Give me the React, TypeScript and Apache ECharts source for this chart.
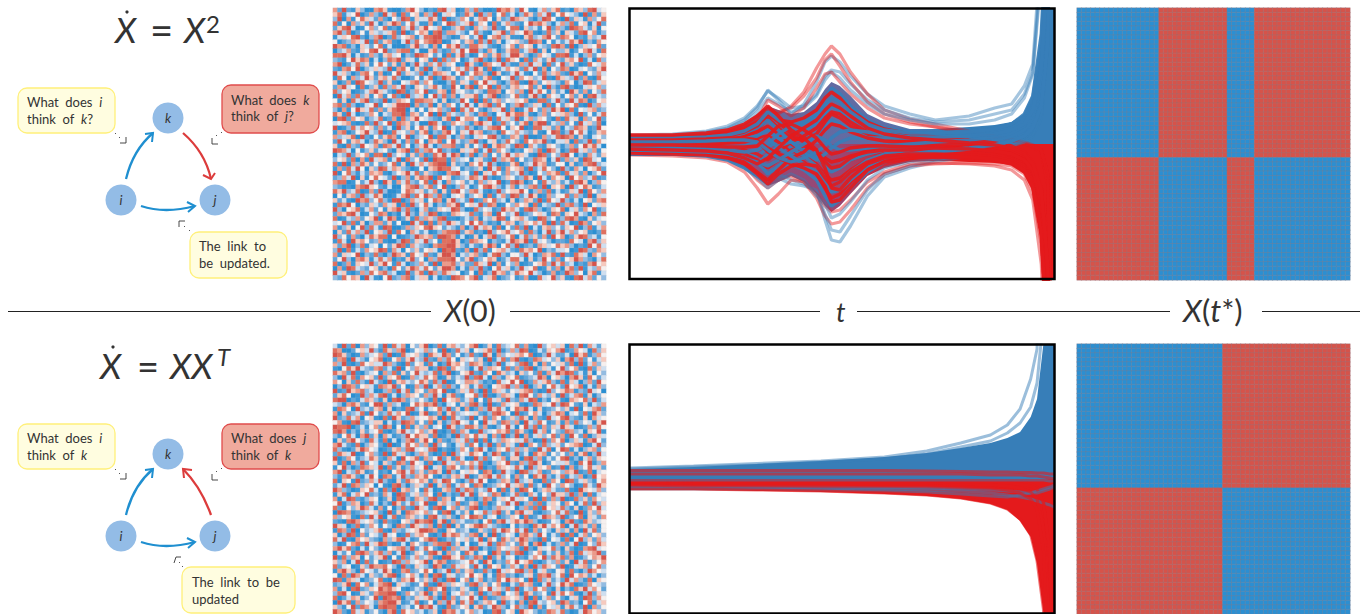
import React, { useEffect, useRef } from "react";
import * as echarts from "echarts";

// ---------- heat-map cells, read by eye: 0 = strong blue ... 9 = strong red ----------
const noiseTop = [
"7292163007 8610027953 0218946017 3820019786 2951047368 1207638945",
"6814590273 1947082561 7390465128 6093715824 0386274915 8543091726",
"3907158642 7205398164 4861902375 1478506239 7642039851 0926417358",
"8150736294 0369725841 1702598346 9265081473 2159786304 7381560492",
"2689401573 5812074936 9547013682 0746392158 8063415927 3198742605",
"7938025164 3468190257 6089277431 5831046927 4597102836 0642895713",
"1465892037 9028356714 8899320165 2490578361 1068347952 8750216349",
"5023764918 2671049385 7898014526 7183926045 6329870514 2486903175",
"9781306425 8140002693 4170586932 8864210357 1756043289 7190364582",
"0347216589 5923788140 0683127495 9931740268 8247916053 3602579418",
"8896041273 1674503298 7524081693 0157268349 9630275418 8914037256",
"3215968704 0387926415 6191837502 4792039186 5081742693 2675914083",
"7902483615 8526170394 2748365019 6208754931 1739460825 9362018547",
"2178590346 4390785162 9063125748 3961802475 6284917053 8701453269",
"9463027851 7015926438 0387641592 5873096124 9410528367 2196805374",
"1850734962 6748300251 4802976135 7326810549 2756349108 6439271085",
"6027198543 9261054783 7510038264 1859462037 8109725643 1750398246",
"2794508136 1837492065 3684129507 9075918326 7458260931 8920146573",
"8356012479 6420981375 9126708453 2431887056 3709485162 4096271538",
"0947283615 7158209346 0593827146 6814790235 8216930754 1572608943",
"5160847923 2903765188 7741602395 1908267354 6570188249 3194870256",
"7828301459 1546999072 3806275149 4067928513 7923640815 2658109374",
"3071596482 7268990415 1657329084 8520364917 0148527396 9081546723",
"8619402375 0438891762 5909174326 3178205496 8861037254 6730925148",
"0892756134 8127083695 4321680957 7502918463 9147365208 1846073592",
"4567101829 3591876240 0984127563 1796402835 2680799143 7251946380",
"9013847562 7240936158 6175904238 3024789516 5901884627 0438761295",
"1780256943 9018453726 8032795164 9671230854 7432610598 1395840267",
"7346809215 2687159034 5918840372 0465893127 6290017348 9871620453",
"2951674038 6309417285 0768159423 7920461385 3185769204 4608239175",
"6108329547 1874925036 9403778216 1539068742 9807421653 1372596840",
"9874051362 4520679183 7859231064 6814927530 2156380974 0289463715",
"0439265718 8093541627 1286949703 8037152694 7641098253 8950317426",
"3562807194 6714908352 9098817345 0462193768 1523876049 2736198450",
"8190738625 2358160947 4789906231 7584930126 8034967125 5061278934",
"1728495063 9847632015 0679884513 2360948175 6719248530 9317405682",
"9058314276 7103569482 6321078945 1906485273 4920153768 1846270359",
"2374906158 5429037168 7908561234 8749201365 2386094175 6095734812",
"7880152493 0961748325 8194073562 4173659028 9702518436 2418960375",
"3201078965 2140057893 6825910374 0258963147 1437829065 7093586124",
"8693480172 9300158746 2470618953 7841029356 6950372814 1264908537",
"0516729348 6001479285 9738204561 3560814729 8249601735 5827319064",
"6241097835 8319902746 1587069342 9127583406 0376291854 9314056278",
"1879503264 2746081935 8403276915 6492870153 7560814329 2783190546",
"9305681472 5167938204 7126549830 0835412967 4189730265 8046275913",
"2768940153 8702049316 3980217654 8216709534 9023564187 1659430728",
"8014372569 0497026183 7638911024 2704369815 6742098351 3897106245",
"4592816037 7261500948 0817396425 9583120476 1365748092 8401972563",
"7136059284 1980027365 8965243170 3947618052 8290416735 2659038147",
"0628473915 6391850742 4013788926 7120935684 5718304926 9473561028",
"9351720486 8805012397 6729987140 1604792358 0483627195 7026983415",
"1840967523 7100398264 9351889602 8765032149 7691845302 2185407936",
"6279038145 0526981743 2078899631 4216970583 9023176458 6730219584",
"3908142756 9817405362 5640989217 0938156742 1867590324 4501983276",
"7164590328 2039761854 8216997043 6720489315 5394027681 9218640753",
"2593078614 8470216935 0738889526 9135760248 8406139527 1569732048",
"8027165493 6951840237 4190778362 2864907153 7012568394 8340217956",
"0719843256 1308526974 8526997041 7392058461 3945801627 0682914375",
"9461027385 7834019268 1973864502 5081396724 8659430271 2973506814",
"3285760941 0592378146 6040219875 7914680235 1270084593 6108947253",
];
const noiseBottom = [
"4192807365 2918470536 9028167435 7902618345 8271093564 6083917425",
"8700256493 1863790254 7351902846 0546829137 3980142657 9127540836",
"9862017345 7290184563 0864972513 8219607354 6758013942 2409681375",
"2780943156 8015726943 9217385064 5360914827 9102874536 0793825146",
"7391028564 4973108256 1840296753 8762039145 3891607254 6280914735",
"1058694327 8241905376 6029817543 0493765182 7289036415 9357108264",
"8672910345 0738162594 3481790256 9217508634 0635281749 7982416053",
"3094817562 9265801734 8570162439 2894073165 8123497056 3079618524",
"7506283194 2091674358 6283901547 7631208459 5902746831 8164037295",
"0398725641 8769250173 9047283156 1482056793 7290361584 2956804173",
"9129678340 0372948165 2785910364 8309176425 4678201935 6871329450",
"2685019374 8914037652 7394068215 5829103764 0895274361 9247816035",
"8990214763 1608972435 3180956724 7051846293 2749803156 1076583924",
"4307862159 9273401586 8792045163 8930912745 6102874593 9852160437",
"1875093426 7060218935 1458392607 0273968415 8794061235 3619054782",
"7062348195 2384759016 9127068345 4621389750 9125740368 7045281963",
"9238470561 0819623745 5760918432 9048275136 3860721945 8932160745",
"5710892346 6041398725 2806137954 1509462873 7094385126 1728354069",
"9889024157 2970508163 7145096238 8627103594 0593817264 9640127385",
"8970316245 8102694357 3691028274 0193457682 8620947153 2873406591",
"3158407926 0741239586 6280130937 5846072913 9071463582 7195280364",
"0627953184 1804037926 9507213648 2918043765 6483019275 8036417952",
"7942180365 2090148573 7193520462 8503917264 1907528346 2567801493",
"8310269754 0126738945 4890210375 1794026583 7362194805 9814036725",
"2864901573 1908462037 6201809354 8650397124 9240867153 5271680394",
"9027513486 2174095681 7359261840 0938254716 6089371425 8913047265",
"6180739254 0631872954 1802946375 7481036592 1738960254 4620859137",
"1593028764 9082613745 9046178523 8390217654 8409365712 9071358462",
"7904386125 1205794836 2786093154 6518702943 0983471265 3769128045",
"3178620495 0871493276 8510326749 0267948351 7250869314 8143702956",
"8065192374 9310628657 6174985203 8495013762 9346108275 0982463157",
"2491873650 5108930364 2906381475 1870236594 6718240953 7530184296",
"9732016584 0829067351 8401672938 7243950816 1985036742 2810965473",
"1680475923 1740982463 7508031294 9165387024 8207415396 6392708145",
"7049821365 0260893176 3892760541 2038714659 4651908273 9018362754",
"5913760284 0319624835 9006743812 6718025394 9037281465 1750482936",
"8205369741 7150382196 4189057263 8902137645 0372819564 8316027594",
"0987123456 2091608765 7351890426 0548379261 7946102358 4820916375",
"7356108294 9048127634 1894362075 9871450236 5081249763 9135806427",
"2108974563 0821056397 8906917342 2305817946 8697301254 0792186345",
"9640281375 1530872964 3708190625 6897432105 1320869475 8049362715",
"1872905346 8107324569 9871065234 0163284975 8491725306 3617094825",
"6039817254 2945018367 5102968743 7806091354 0786395142 9180472563",
"8491075632 0736894125 7980132546 2490751863 6973208154 1805936274",
"3015782946 9820140753 1378892605 0164928735 2860790413 7249015386",
"7968204153 1056783924 8520917364 9803127546 7192064583 0620178945",
"0425189736 8371490265 2896073518 6145097283 8903571426 1380846792",
"9183760524 6905182473 4710996582 3870926145 0214759386 8270135769",
"6370491825 0129837456 9068712345 8419603275 9568102437 2609481357",
"8245016397 7853092164 3197028465 2940856137 4170938652 9014672583",
"1796308542 4960178235 8503491726 7128309465 8937046215 6182039754",
"5082974163 2689035741 7089164235 9560418723 0246187935 8095762413",
"9817640235 8104276953 6392089157 0471328596 7519083624 2947318065",
"2369085714 7890643125 8109736542 8936257104 2867104935 9680127543",
"7140892365 9786510243 0875913264 1075946382 9143857206 0318694752",
"3895016427 8899027536 9162804573 6291378054 7086235194 8571039264",
"8024761359 1987803264 6830917245 9408123765 6390814725 2046198375",
"0968173542 7899612480 2507396184 8136750924 1708943562 9723058146",
"6315928740 8988034159 7941082356 0682497315 8329071546 1684290735",
"9720846135 2079185634 1360978425 7340189256 0965312874 8201497563",
];

// ---------- converged block patterns, one character per cell ----------
const blockTopColumns = "000000000000000000999999999999999000000999999999999999999999";
const blockTopRowSides = "AAAAAAAAAAAAAAAAAAAAAAAAAAAAAAAAABBBBBBBBBBBBBBBBBBBBBBBBBBB";
const blockBottomColumns = "000000000000000000000000000000009999999999999999999999999999";
const blockBottomRowSides = "AAAAAAAAAAAAAAAAAAAAAAAAAAAAAAAABBBBBBBBBBBBBBBBBBBBBBBBBBBB";
const cellColors = ["#2b8fd2","#3f98d6","#62a6da","#93bce2","#cfdff0","#f6f0ef","#f6cabf","#ec9a8a","#e0705f","#d6534a"];

// ---------- trajectories of the upper run; values are pixels-equivalent above the zero line ----------
const timesTop = [0,10,18,23,27,30,32.5,35,38,41,44,46,47.5,49.5,52,56,60,66,72,80,86,90,93,95,97,98.5,100];
const envelopeTopBlue = [10,10,11,14,20,30,38,34,30,32,42,55,62,58,48,30,22,15,15,17,19,22,30,45,95,200,400];
const envelopeTopRed = [-12,-12,-13,-16,-24,-34,-42,-38,-32,-38,-50,-62,-68,-62,-50,-32,-24,-18,-17,-18,-19,-21,-30,-46,-95,-200,-400];
const blueTopOuter = [
[8,9,12,16,24,36,54,44,30,40,62,82,88,82,68,50,38,30,24,28,36,40,58,80,200,400,400],
[9,10,13,18,26,38,53,46,36,38,50,68,74,72,60,44,34,26,22,24,30,34,50,72,180,400,400],
[7,8,11,15,22,32,46,40,32,36,48,64,72,66,54,40,30,24,20,20,24,30,46,70,170,400,400],
[-6,-7,-10,-12,-14,-18,-20,-34,-40,-42,-46,-76,-96,-98,-82,-52,-33,-24,-18,-12,-6,-2,4,10,30,120,400],
[-5,-6,-9,-11,-15,-20,-26,-30,-36,-40,-48,-70,-86,-88,-72,-46,-30,-22,-16,-10,-4,0,6,14,40,150,400],
[-6,-7,-10,-15,-24,-34,-44,-36,-30,-36,-52,-60,-74,-70,-58,-36,-24,-18,-14,-10,-6,-2,2,8,26,100,400],
];
const blueTopCore = [
[-1,-1,-2,-3,-6,-10,-16,-8,0,6,10,18,24,20,14,8,5,4,5,6,8,12,18,30,66,160,400],
[-3,-3,-4,-6,-8,-12,-4,4,10,14,20,30,38,34,26,16,11,9,9,10,13,18,26,42,90,200,400],
[-5,-5,-6,-8,-12,-18,-30,-22,-12,-10,-14,-20,-24,-22,-14,-8,-4,-2,0,2,4,8,14,24,54,140,400],
[1,1,2,3,5,8,14,6,-4,-12,-22,-34,-42,-38,-28,-16,-10,-6,-4,-1,2,6,12,22,50,130,400],
[-8,-8,-9,-12,-16,-20,-10,-2,2,-4,-12,-22,-28,-24,-16,-10,-6,-3,-1,1,4,8,14,26,58,150,400],
[4,4,5,7,11,16,24,14,2,-8,-16,-10,-4,2,6,6,6,6,7,9,12,16,24,38,80,180,400],
[-4,-4,-5,-6,-8,-6,0,10,18,22,30,44,56,50,38,24,16,12,11,13,16,20,28,46,100,220,400],
[-10,-10,-12,-16,-24,-32,-40,-30,-20,-26,-36,-52,-62,-56,-44,-28,-18,-12,-8,-5,-1,3,8,18,40,110,400],
[6,6,7,9,13,20,32,24,16,20,28,38,46,42,32,20,14,11,11,12,15,20,30,48,110,240,400],
[-2,-2,-3,-4,-2,2,6,-4,-12,-20,-28,-38,-48,-46,-36,-22,-14,-10,-7,-4,-1,3,8,16,38,100,400],
[-6,-7,-8,-10,-14,-18,-22,-16,-8,0,8,4,-2,-6,-6,-4,-2,0,2,4,7,11,18,30,68,170,400],
[2,2,3,4,4,2,-6,-14,-18,-14,-8,-2,6,12,14,12,9,7,7,8,10,14,20,34,76,180,400],
];
const redTopOuter = [
[6,7,10,14,20,28,34,30,38,52,76,90,98,90,72,50,34,25,20,13,8,4,1,-3,-8,-40,-300],
[5,6,9,12,18,24,36,32,36,48,66,84,90,78,62,42,30,22,17,10,6,3,0,-2,-6,-30,-300],
[4,5,8,11,16,24,44,38,28,36,56,70,72,62,50,36,26,20,17,12,8,5,2,-1,-6,-30,-300],
[-7,-8,-11,-15,-22,-36,-44,-36,-32,-38,-54,-72,-80,-78,-66,-44,-30,-22,-20,-19,-20,-22,-30,-48,-100,-220,-400],
[-11,-12,-14,-18,-28,-44,-60,-50,-36,-38,-50,-62,-68,-66,-56,-38,-28,-20,-19,-20,-22,-26,-36,-56,-120,-260,-400],
];
const redTopCore = [
[3,3,4,5,8,12,18,10,0,-8,-14,-20,-24,-22,-16,-10,-7,-6,-6,-7,-9,-12,-18,-30,-60,-150,-400],
[2,2,3,5,8,14,26,16,6,4,10,22,30,26,18,10,6,3,1,-1,-3,-6,-12,-24,-50,-130,-400],
[1,1,2,2,4,6,8,2,-6,-12,-20,-30,-36,-34,-26,-16,-10,-8,-8,-9,-12,-16,-24,-38,-80,-180,-400],
[-2,-2,-3,-4,-6,-10,-16,-8,2,8,16,26,32,30,22,12,6,2,0,-2,-4,-8,-14,-26,-56,-140,-400],
[-4,-4,-5,-7,-10,-16,-24,-16,-6,-2,-6,-14,-18,-16,-12,-8,-6,-6,-7,-8,-11,-15,-22,-36,-76,-170,-400],
[5,5,6,8,12,18,30,22,10,2,-8,-18,-24,-22,-14,-6,-2,-1,-2,-4,-6,-10,-16,-28,-60,-150,-400],
[7,7,8,11,16,22,30,24,22,26,34,46,52,46,34,22,15,10,7,4,1,-2,-8,-18,-44,-120,-400],
[-7,-8,-9,-12,-18,-28,-36,-26,-14,-18,-30,-44,-54,-50,-38,-24,-16,-12,-11,-12,-14,-18,-26,-42,-88,-200,-400],
[0,0,0,1,2,4,-4,-10,-14,-8,4,14,20,18,12,6,3,1,0,-1,-3,-6,-12,-22,-48,-120,-400],
[-9,-10,-11,-14,-20,-30,-40,-30,-22,-20,-22,-34,-42,-38,-28,-18,-12,-10,-10,-11,-13,-17,-24,-40,-84,-190,-400],
[4,4,5,6,6,4,-8,-14,-20,-24,-30,-42,-58,-56,-44,-26,-18,-14,-13,-14,-16,-20,-28,-44,-92,-210,-400],
[9,9,11,14,20,28,38,28,14,6,-6,-24,-44,-46,-34,-20,-14,-12,-12,-13,-15,-19,-26,-42,-88,-200,-400],
[-1,-1,-2,-3,-3,-2,8,18,20,14,6,-4,-10,-8,-4,-2,-2,-3,-4,-5,-7,-10,-16,-26,-54,-130,-400],
[-5,-6,-7,-9,-14,-20,-14,-4,8,16,24,34,40,36,28,16,10,6,4,1,-1,-4,-10,-20,-46,-120,-400],
];

// ---------- trajectories of the lower run ----------
const timesBottom = [0,15,30,45,60,70,78,85,89,92,94.5,96,97.5,99,100];
const envelopeBottomBlue = [10,12,15,18,22,26,31,36,41,47,62,80,135,300,400];
const envelopeBottomRed = [-11,-11,-12,-13,-15,-17,-20,-25,-31,-42,-58,-85,-134,-300,-400];
const blueBottom = [
[11,13,15.5,18,22,28,36,44,54,70,100,130,400,400,400],
[10,12,14,17,20,25,32,38,46,56,72,96,160,400,400],
[-9,-9,-9,-10,-10,-11,-12,-14,-16,-18,-20,-22,-24,-26,-28],
[-10,-10,-10,-11,-12,-13,-15,-17,-18,-16,-14,-12,-10,-8,-6],
[-8,-8,-8,-8,-9,-9,-10,-11,-12,-13,-14,-14,-12,-10,-8],
[-1,-1,-1,-1,-1,-1,-1,-1,-1,-1,-1,-1,-1,-2,-2],
];
const redBottom = [
[5,5,5,5,5,5,5,4,4,4,3,3,2,1,0],
[8.5,8.5,8.5,8.5,8.5,8,7.5,7,7,6.5,6.5,6,6,5,5],
[-2,-3,-3,-3,-3,-3,-3,-3,-3,-3,-5,-8,-20,-80,-200],
[-3,-4,-4,-4,-4,-4,-4,-4,-4,-5,-7,-10,-24,-70,-200],
[-4,-5,-5,-5,-5,-5,-6,-6,-7,-9,-13,-20,-50,-150,-400],
[-6,-7,-7,-7,-7,-7,-8,-9,-11,-14,-20,-30,-70,-200,-400],
[-10,-10,-11,-12,-14,-16,-19,-24,-30,-40,-56,-82,-130,-300,-400],
];

// ---------- texts ----------
const sectionLabels = ["X(0)", "t", "X(t*)"];
const SANS = "Lato, 'Open Sans', sans-serif";
const INK = "#333333";
const BLUE = "#377eb8";
const RED = "#e41a1c";
const ARROW_BLUE = "#1f8fd0";
const ARROW_RED = "#dc3c3c";

const cellIndex = Array.from({ length: 60 }, (_, i) => String(i));

const rowsToCells = (rows: string[]) => {
  const out: number[][] = [];
  rows.forEach((r, y) => {
    r.replace(/\s/g, "").split("").forEach((c, x) => out.push([x, y, Number(c)]));
  });
  return out;
};
const blockToRows = (cols: string, sides: string) =>
  sides.split("").map((s) =>
    s === "A" ? cols : cols.split("").map((c) => (c === "0" ? "9" : "0")).join(""),
  );

const pairLines = (times: number[], rows: number[][], color: string, gridIndex: number, width: number, opacity: number) =>
  rows.map((r) => ({
    type: "line",
    xAxisIndex: gridIndex,
    yAxisIndex: gridIndex,
    showSymbol: false,
    symbol: "none",
    silent: true,
    lineStyle: { color, width, opacity },
    data: r.map((v, i) => [times[i], v]),
    z: 3,
  }));

const interleave = (a: any[], b: any[]) => {
  const out: any[] = [];
  for (let i = 0; i < Math.max(a.length, b.length); i++) {
    if (a[i]) out.push(a[i]);
    if (b[i]) out.push(b[i]);
  }
  return out;
};

const areaSeries = (times: number[], values: number[], color: any, gridIndex: number) => ({
  type: "line",
  xAxisIndex: gridIndex,
  yAxisIndex: gridIndex,
  showSymbol: false,
  symbol: "none",
  silent: true,
  lineStyle: { width: 0, color: "transparent" },
  areaStyle: { color, opacity: 1 },
  data: values.map((v, i) => [times[i], v]),
  z: 2,
});

const heatSeries = (rows: string[], gridIndex: number, border: string, bw: number) => ({
  type: "heatmap",
  xAxisIndex: gridIndex,
  yAxisIndex: gridIndex,
  silent: true,
  data: rowsToCells(rows),
  itemStyle: { borderColor: border, borderWidth: bw },
  progressive: 0,
  emphasis: { disabled: true },
});

const t = (text: string, x: number, y: number, size: number, extra: any = {}) => ({
  type: "text",
  z: 50,
  silent: true,
  style: {
    text,
    x,
    y,
    fontSize: size,
    fontFamily: SANS,
    fill: INK,
    textVerticalAlign: "middle",
    verticalAlign: "middle",
    rich: {
      i: { fontStyle: "italic", fontSize: size, fontFamily: SANS, fill: INK, color: INK },
    },
    ...extra,
  },
});

const box = (x: number, y: number, w: number, h: number, fill: string, stroke: string) => ({
  type: "rect",
  z: 40,
  silent: true,
  shape: { x, y, width: w, height: h, r: 9 },
  style: { fill, stroke, lineWidth: 1.3 },
});

const node = (cx: number, cy: number, label: string) => [
  { type: "circle", z: 40, silent: true, shape: { cx, cy, r: 15.5 }, style: { fill: "#93bce6" } },
  t(label, cx, cy, 13, { fontStyle: "italic", textAlign: "center", align: "center" }),
];

const arrow = (
  x1: number, y1: number, cx: number, cy: number, x2: number, y2: number,
  b1: number[], b2: number[], color: string,
) => [
  {
    type: "bezierCurve", z: 41, silent: true,
    shape: { x1, y1, x2, y2, cpx1: cx, cpy1: cy },
    style: { stroke: color, lineWidth: 2.3, fill: "none" },
  },
  {
    type: "polyline", z: 41, silent: true,
    shape: { points: [b1, [x2, y2], b2] },
    style: { stroke: color, lineWidth: 2, fill: "none" },
  },
];

const pointer = (corner: number[][], dots: number[][]) => [
  {
    type: "polyline", z: 41, silent: true,
    shape: { points: corner },
    style: { stroke: "#333", lineWidth: 0.9, fill: "none" },
  },
  ...dots.map((d) => ({
    type: "rect", z: 41, silent: true,
    shape: { x: d[0], y: d[1], width: 1, height: 1 },
    style: { fill: "#555" },
  })),
];

const sep = (x1: number, x2: number) => ({
  type: "line", z: 40, silent: true,
  shape: { x1, y1: 311.5, x2, y2: 311.5 },
  style: { stroke: "#222", lineWidth: 1.1 },
});

const frame = (x: number, y: number, w: number, h: number) => ({
  type: "rect", z: 100, silent: true,
  shape: { x, y, width: w, height: h },
  style: { fill: "none", stroke: "#000", lineWidth: 2.5 },
});

const hiddenCat = (gridIndex: number, inverse = false) => ({
  type: "category", gridIndex, data: cellIndex, show: false, inverse,
  axisLine: { show: false }, axisTick: { show: false }, axisLabel: { show: false }, splitLine: { show: false },
});
const hiddenVal = (gridIndex: number, min: number, max: number) => ({
  type: "value", gridIndex, min, max, show: false, scale: false, splitLine: { show: false },
});

export default function App() {
  const ref = useRef<HTMLDivElement>(null);
  useEffect(() => {
    const chart = echarts.init(ref.current!, undefined, { renderer: "svg" });
    const grids = [
      { left: 333, top: 8, width: 273, height: 272 },
      { left: 333, top: 344, width: 273, height: 270 },
      { left: 1077, top: 8, width: 273, height: 272 },
      { left: 1077, top: 344, width: 273, height: 270 },
      { left: 630, top: 9, width: 424, height: 270 },
      { left: 630, top: 345, width: 424, height: 268 },
    ];
    const mixUpper = new echarts.graphic.LinearGradient(0, 0, 1, 0, [
      { offset: 0, color: "#76608f" },
      { offset: 0.6, color: "#5f6da6" },
      { offset: 0.74, color: BLUE },
      { offset: 1, color: BLUE },
    ]);
    const mixLower = new echarts.graphic.LinearGradient(0, 0, 1, 0, [
      { offset: 0, color: "#7d5a8e" },
      { offset: 0.5, color: "#9a4672" },
      { offset: 0.66, color: RED },
      { offset: 1, color: RED },
    ]);
    const graphicElements: any[] = [
      sep(8, 431), sep(510, 820), sep(857, 1170), sep(1262, 1360),
      t(sectionLabels[0].replace("X", "{i|X}"), 444, 310, 30),
      t("{i|" + sectionLabels[1] + "}", 836, 311, 27),
      t("{i|X}({i|t}*)", 1183, 310, 31),
      // upper formula
      t("{i|X}", 115, 29, 35),
      t("=", 150, 30, 40),
      t("{i|X}", 184, 29, 35),
      t("2", 206, 23, 24),
      { type: "circle", z: 50, silent: true, shape: { cx: 127, cy: 12, r: 1.6 }, style: { fill: INK } },
      // lower formula
      t("{i|X}", 100, 365, 35),
      t("=", 137, 366, 38),
      t("{i|XX}", 170, 365, 35),
      t("{i|T}", 217, 356, 24),
      { type: "circle", z: 50, silent: true, shape: { cx: 113, cy: 347, r: 1.6 }, style: { fill: INK } },
      // upper diagram
      box(18, 88, 97, 45, "#fffde0", "#fff07a"),
      t("What  does  {i|i}", 27, 102, 13),
      t("think  of  {i|k}?", 27, 119, 13),
      box(222, 85, 97, 48, "#f0aa9d", "#e04c4c"),
      t("What  does  {i|k}", 231, 100, 13),
      t("think  of  {i|j}?", 231, 116, 13),
      box(190, 232, 97, 46, "#fffde0", "#fff07a"),
      t("The  link  to", 199, 246, 13),
      t("be  updated.", 199, 263, 13),
      ...node(168, 118, "k"), ...node(121, 200, "i"), ...node(215, 200, "j"),
      ...arrow(126, 179, 133, 150, 153, 133, [145, 134], [152, 142], ARROW_BLUE),
      ...arrow(183, 133, 205, 152, 211, 179, [203, 175], [215, 173], ARROW_RED),
      ...arrow(141, 206, 165, 214, 195, 206, [187, 202], [188, 212], ARROW_BLUE),
      ...pointer([[120, 143], [126, 143], [126, 137]], [[115, 133], [119, 137]]),
      ...pointer([[212, 138], [212, 144], [218, 144]], [[216, 135], [221, 132]]),
      ...pointer([[179, 227], [179, 221], [185, 221]], [[184, 226], [189, 230]]),
      // lower diagram
      box(18, 424, 97, 45, "#fffde0", "#fff07a"),
      t("What  does  {i|i}", 27, 438, 13),
      t("think  of  {i|k}", 27, 455, 13),
      box(222, 424, 97, 45, "#f0aa9d", "#e04c4c"),
      t("What  does  {i|j}", 231, 438, 13),
      t("think  of  {i|k}", 231, 455, 13),
      box(182, 567, 113, 46, "#fffde0", "#fff07a"),
      t("The  link  to  be", 192, 582, 13),
      t("updated", 192, 599, 13),
      ...node(168, 454, "k"), ...node(121, 536, "i"), ...node(215, 536, "j"),
      ...arrow(126, 515, 133, 486, 153, 469, [145, 470], [152, 478], ARROW_BLUE),
      ...arrow(211, 515, 201, 487, 183, 469, [192, 470], [184, 478], ARROW_RED),
      ...arrow(141, 542, 165, 550, 195, 542, [187, 538], [188, 548], ARROW_BLUE),
      ...pointer([[120, 479], [126, 479], [126, 473]], [[115, 469], [119, 473]]),
      ...pointer([[212, 474], [212, 480], [218, 480]], [[216, 471], [221, 468]]),
      ...pointer([[174, 563], [176, 557], [181, 557]], [[179, 562], [182, 566]]),
      frame(629.5, 8.5, 425, 270.5),
      frame(629.5, 344.5, 425, 269),
    ];
    chart.setOption({
      animation: false,
      backgroundColor: "#ffffff",
      grid: grids,
      xAxis: [
        hiddenCat(0), hiddenCat(1), hiddenCat(2), hiddenCat(3),
        hiddenVal(4, 0, 100), hiddenVal(5, 0, 100),
      ],
      yAxis: [
        hiddenCat(0, true), hiddenCat(1, true), hiddenCat(2, true), hiddenCat(3, true),
        hiddenVal(4, -135, 135), hiddenVal(5, -134, 134),
      ],
      visualMap: {
        show: false, type: "piecewise", seriesIndex: [0, 1, 2, 3], dimension: 2,
        pieces: cellColors.map((color, i) => ({ value: i, color })),
      },
      series: [
        heatSeries(noiseTop, 0, "rgba(190,190,190,0.25)", 0.4),
        heatSeries(noiseBottom, 1, "rgba(190,190,190,0.25)", 0.4),
        heatSeries(blockToRows(blockTopColumns, blockTopRowSides), 2, "rgba(140,125,135,0.55)", 0.6),
        heatSeries(blockToRows(blockBottomColumns, blockBottomRowSides), 3, "rgba(140,125,135,0.55)", 0.6),
        areaSeries(timesTop, envelopeTopBlue, mixUpper, 4),
        areaSeries(timesTop, envelopeTopRed, mixLower, 4),
        areaSeries(timesBottom, envelopeBottomBlue, BLUE, 5),
        areaSeries(timesBottom, envelopeBottomRed, RED, 5),
        ...interleave(pairLines(timesTop, blueTopOuter, BLUE, 4, 3.2, 0.45), pairLines(timesTop, redTopOuter, RED, 4, 3.2, 0.45)),
        ...interleave(pairLines(timesTop, blueTopCore, BLUE, 4, 3.4, 0.92), pairLines(timesTop, redTopCore, RED, 4, 3.4, 0.92)),
        ...interleave(pairLines(timesBottom, blueBottom, BLUE, 5, 3, 0.5), pairLines(timesBottom, redBottom, RED, 5, 3, 0.6)),
      ],
      graphic: { elements: graphicElements },
    });
    return () => chart.dispose();
  }, []);
  return (
    <div
      ref={ref}
      style={{ position: "fixed", left: 0, top: 0, width: 1367, height: 614, background: "#fff" }}
    />
  );
}
